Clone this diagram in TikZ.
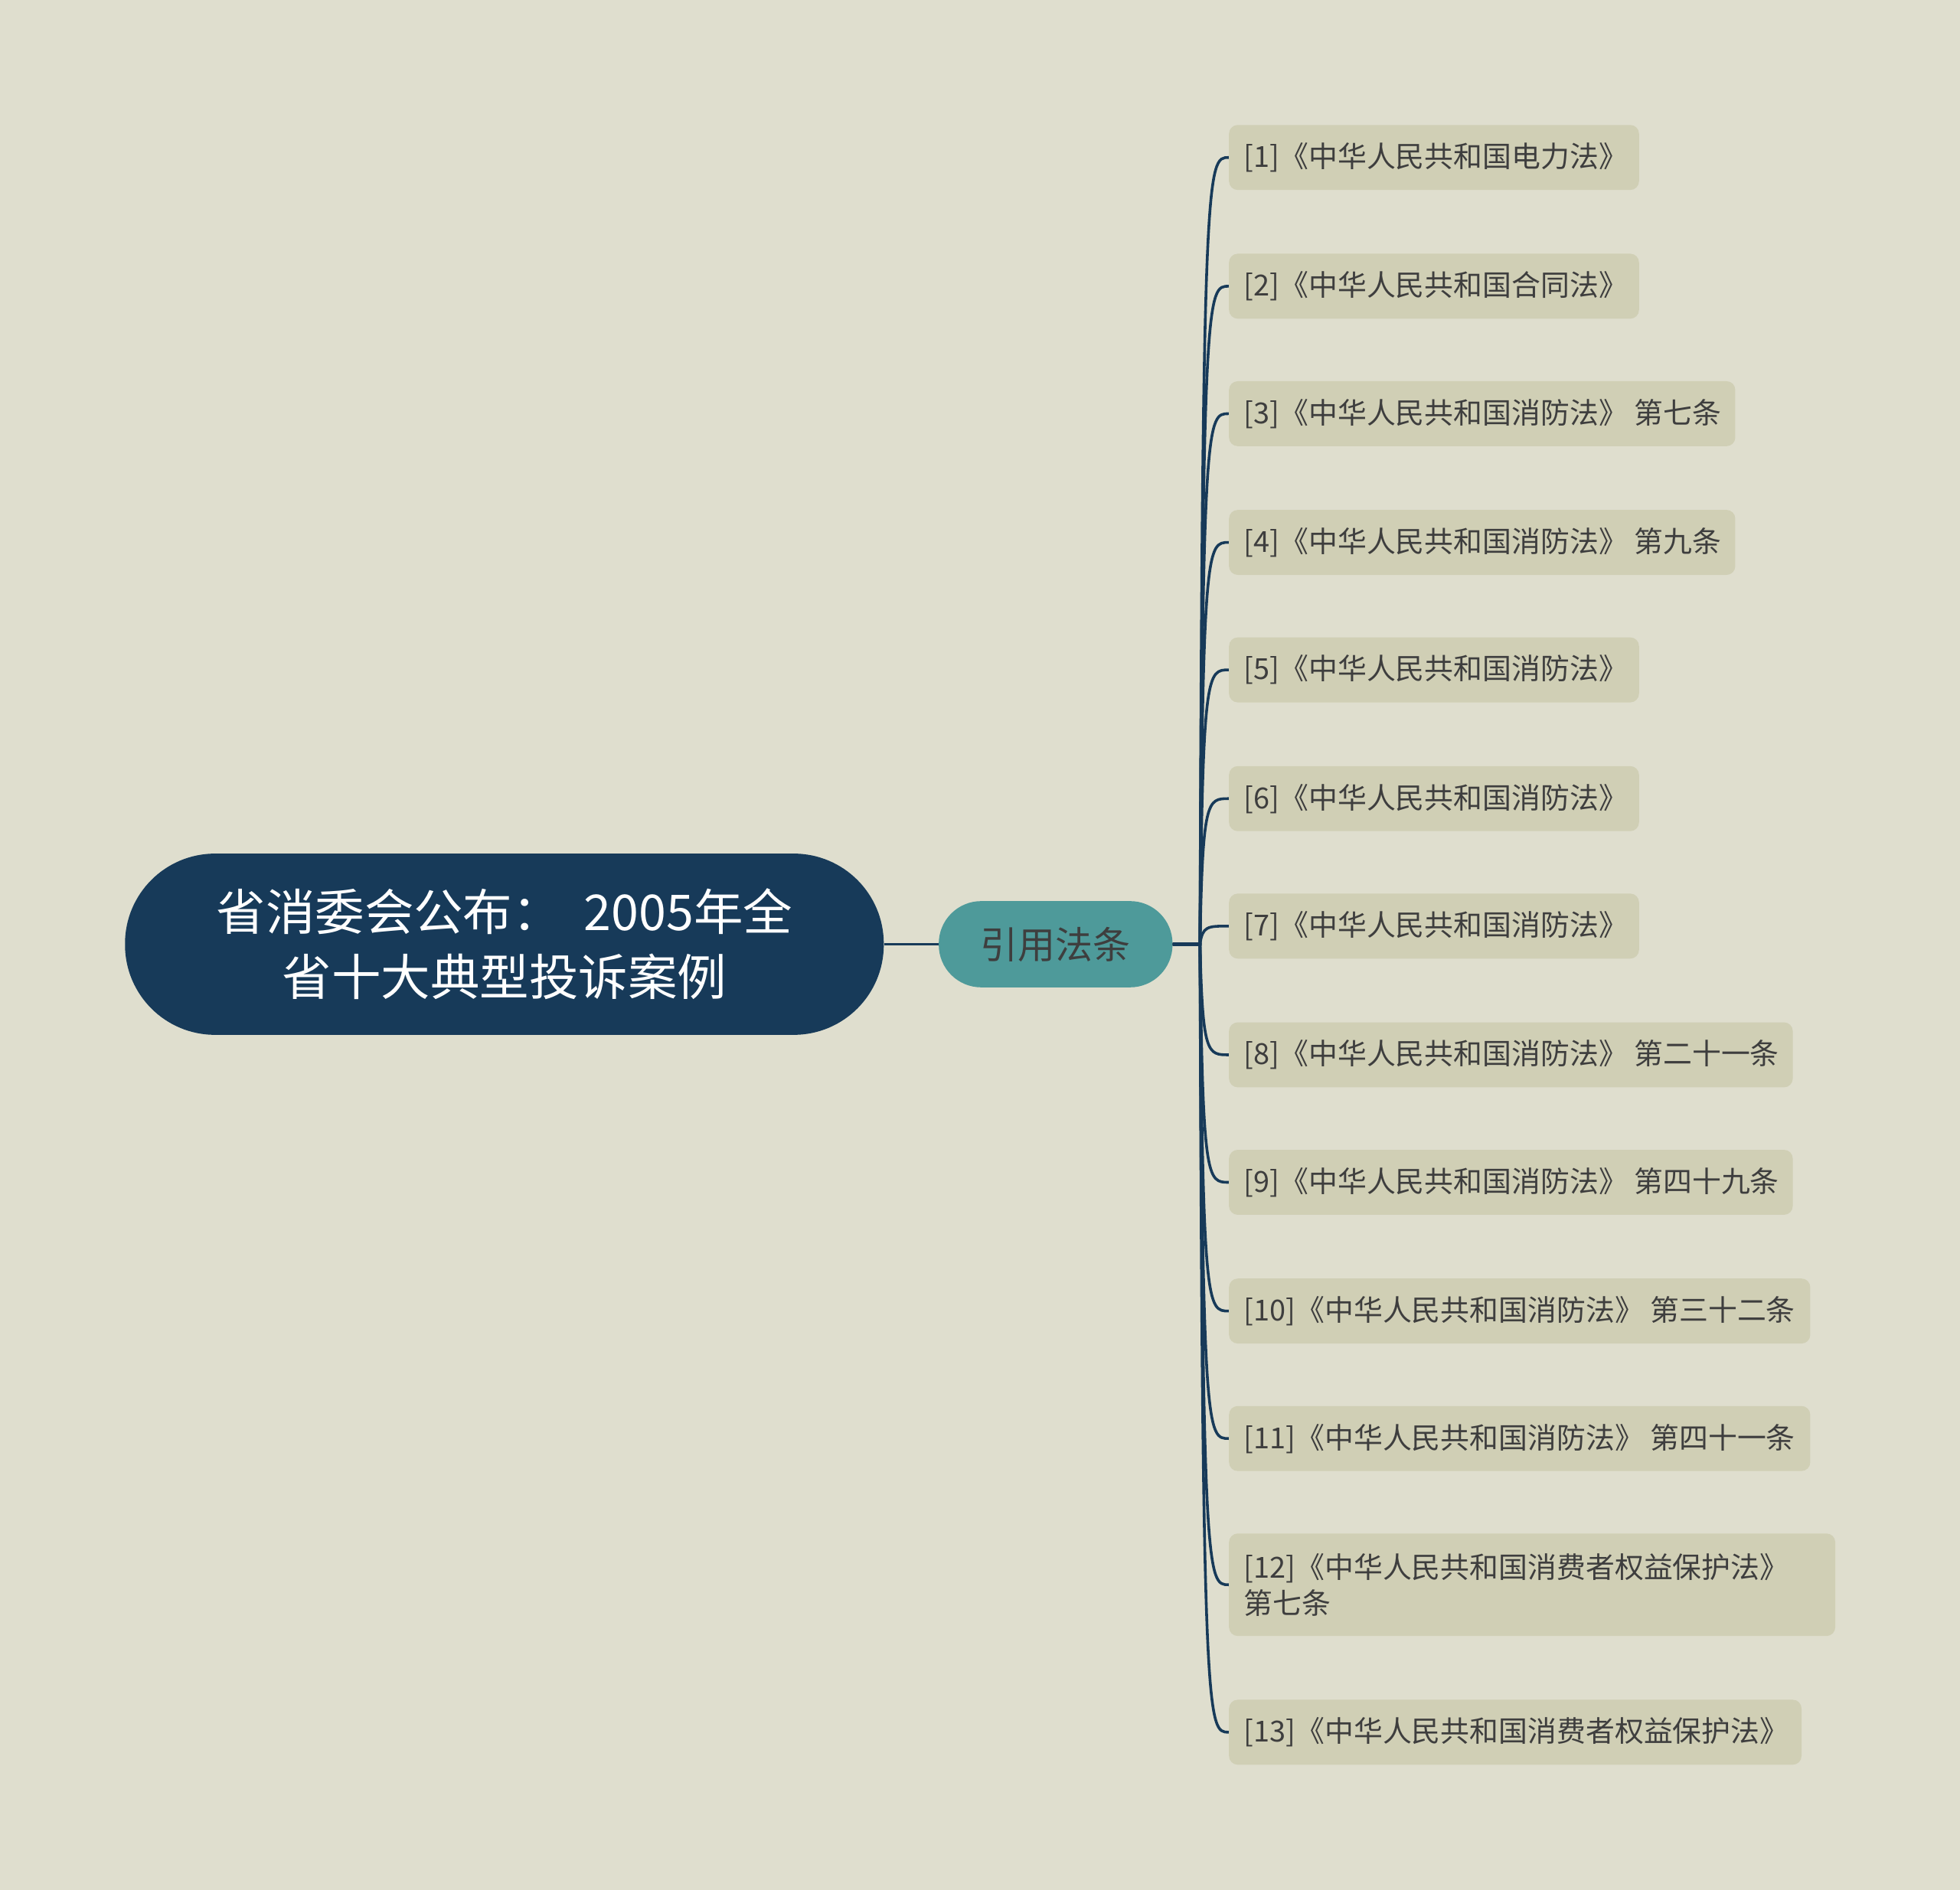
\documentclass[tikz,border=0pt]{standalone}
\usepackage{fontspec}
\setmainfont{Noto Sans CJK SC}
\definecolor{bg}{HTML}{DFDECE}
\definecolor{rootc}{HTML}{173A59}
\definecolor{midc}{HTML}{4E9A9A}
\definecolor{leafc}{HTML}{D0CFB5}
\definecolor{txt}{HTML}{3E3E3E}
\begin{document}
\begin{tikzpicture}[x=1pt,y=-1pt,
  leaf/.style={fill=leafc,rounded corners=7pt,anchor=west,align=left,inner xsep=12pt,inner ysep=0pt,minimum height=52pt,font=\fontsize{23.2}{29}\selectfont,text=txt},
  conn/.style={draw=rootc,line width=2.2pt}]
\fill[bg] (0,0) rectangle (1568,1512);
\useasboundingbox (0,0) rectangle (1568,1512);
\node[fill=rootc,rounded corners=72pt,minimum width=607pt,minimum height=145pt,text=white,align=center,font=\fontsize{39.5}{52}\selectfont] (root) at (403.5,755.5) {省消委会公布：\ \ 2005年全\\省十大典型投诉案例};
\node[fill=midc,rounded corners=34pt,minimum width=187pt,minimum height=69pt,text=txt,font=\fontsize{30}{36}\selectfont] (mid) at (844.5,755.5) {引用法条};
\draw[conn] (root.east) -- (mid.west);
\foreach \i/\y/\r/\t in {
 1/126/1311/{[1]《中华人民共和国电力法》},
 2/229/1311/{[2]《中华人民共和国合同法》},
 3/331/1388/{[3]《中华人民共和国消防法》 第七条},
 4/434/1388/{[4]《中华人民共和国消防法》 第九条},
 5/536/1311/{[5]《中华人民共和国消防法》},
 6/639/1311/{[6]《中华人民共和国消防法》},
 7/741/1311/{[7]《中华人民共和国消防法》},
 8/844/1434/{[8]《中华人民共和国消防法》 第二十一条},
 9/946/1434/{[9]《中华人民共和国消防法》 第四十九条},
 10/1049/1448/{[10]《中华人民共和国消防法》 第三十二条},
 11/1151/1448/{[11]《中华人民共和国消防法》 第四十一条},
 13/1386/1441/{[13]《中华人民共和国消费者权益保护法》}}{
 \pgfmathsetmacro\w{\r-983-24}
 \node[leaf] (l\i) at (983,\y) {\makebox[\w pt][l]{\t}};
 \draw[conn] (mid.east) -- (960,755.5) .. controls (962,\y) and (966,\y) .. (l\i.west);
}
\node[leaf,text width=461pt,minimum height=82pt] (l12) at (983,1268) {[12]《中华人民共和国消费者权益保护法》\\第七条};
\draw[conn] (mid.east) -- (960,755.5) .. controls (962,1268) and (966,1268) .. (l12.west);
\end{tikzpicture}
\end{document}
